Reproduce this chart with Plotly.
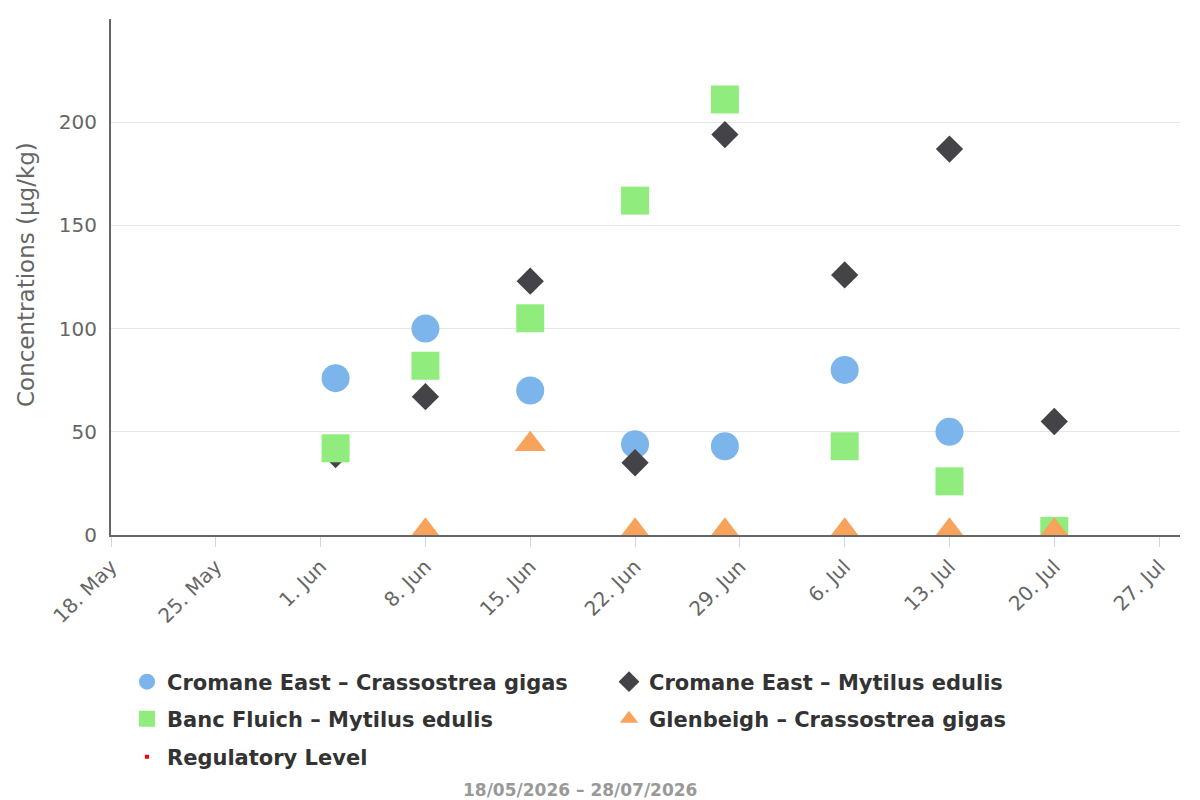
import plotly.graph_objects as go

dates = ["2026-06-02", "2026-06-08", "2026-06-15", "2026-06-22",
         "2026-06-28", "2026-07-06", "2026-07-13", "2026-07-20"]

cromane_gigas = [76, 100, 70, 44, 43, 80, 50, None]
cromane_edulis = [39, 67, 123, 35, 194, 126, 187, 55]
banc_edulis = [42, 82, 105, 162, 211, 43, 26, 2]
glenbeigh_gigas = [None, 2, 44, 2, 2, 2, 2, 2]

series_names = [
    "Cromane East – Crassostrea gigas",
    "Cromane East – Mytilus edulis",
    "Banc Fluich – Mytilus edulis",
    "Glenbeigh – Crassostrea gigas",
]
tick_dates = ["2026-05-18", "2026-05-25", "2026-06-01", "2026-06-08", "2026-06-15",
              "2026-06-22", "2026-06-29", "2026-07-06", "2026-07-13", "2026-07-20",
              "2026-07-27"]
tick_labels = ["18. May", "25. May", "1. Jun", "8. Jun", "15. Jun", "22. Jun",
               "29. Jun", "6. Jul", "13. Jul", "20. Jul", "27. Jul"]
y_ticks = [0, 50, 100, 150, 200, 250]
y_labels = ["0", "50", "100", "150", "200", ""]

FONT = "DejaVu Sans"

# plot area in pixels
L, R, T, B = 111, 1180, 19, 535
PW, PH = R - L, B - T


def px_x(px):
    return (px - L) / PW


def px_y(py):
    return (B - py) / PH


fig = go.Figure()
fig.add_trace(go.Scatter(x=dates, y=cromane_gigas, mode="markers", name=series_names[0],
                         legend="legend",
                         marker=dict(symbol="circle", size=28, color="#7cb5ec")))
fig.add_trace(go.Scatter(x=dates, y=cromane_edulis, mode="markers", name=series_names[1],
                         legend="legend",
                         marker=dict(symbol="diamond", size=21, color="#434348")))
fig.add_trace(go.Scatter(x=dates, y=banc_edulis, mode="markers", name=series_names[2],
                         legend="legend2",
                         marker=dict(symbol="square", size=28, color="#90ed7d")))
fig.add_trace(go.Scatter(x=dates, y=glenbeigh_gigas, mode="markers", name=series_names[3],
                         legend="legend2",
                         marker=dict(symbol="triangle-up", size=27, color="#f7a35c")))
fig.add_trace(go.Scatter(x=[None], y=[None], mode="markers", name="Regulatory Level",
                         legend="legend3",
                         marker=dict(symbol="square", size=4, color="#ff0000")))

legend_font = dict(family=FONT, size=21, color="#333333", weight="bold")


def legend_row(py):
    return dict(
        orientation="h", x=px_x(127), y=px_y(py), xanchor="left", yanchor="middle",
        entrywidth=437, entrywidthmode="pixels",
        font=legend_font, itemsizing="trace", bgcolor="rgba(0,0,0,0)",
    )


fig.update_layout(
    width=1200, height=800,
    margin=dict(l=L, r=1200 - R, t=T, b=800 - B),
    paper_bgcolor="white", plot_bgcolor="white",
    font=dict(family=FONT, color="#666666"),
    showlegend=True,
    legend=legend_row(682),
    legend2=legend_row(719),
    legend3=legend_row(757),
    xaxis=dict(
        type="date",
        range=["2026-05-18", "2026-07-28 09:30"],
        tickvals=tick_dates, ticktext=tick_labels, tickangle=-45,
        tickfont=dict(family=FONT, size=20, color="#666666"),
        ticks="outside", ticklen=10, tickcolor="#ccd6eb", tickwidth=1,
        showgrid=False, zeroline=False,
        showline=True, linecolor="#666666", linewidth=2,
    ),
    yaxis=dict(
        range=[0, 250],
        tickvals=y_ticks, ticktext=y_labels,
        tickfont=dict(family=FONT, size=20, color="#666666"),
        showgrid=True, gridcolor="#e6e6e6", gridwidth=1,
        zeroline=False, showline=True, linecolor="#666666", linewidth=2,
        ticks="", ticklabelstandoff=8,
    ),
    annotations=[
        dict(text="Concentrations (µg/kg)", xref="paper", yref="paper",
             x=px_x(26), y=px_y(275), xanchor="center", yanchor="middle",
             textangle=-90, showarrow=False,
             font=dict(family=FONT, size=23, color="#666666")),
        dict(text="18/05/2026 – 28/07/2026", xref="paper", yref="paper",
             x=px_x(580), y=px_y(790), xanchor="center", yanchor="middle",
             showarrow=False,
             font=dict(family=FONT, size=17, color="#999999", weight="bold")),
    ],
)

fig.write_html("out.html")
